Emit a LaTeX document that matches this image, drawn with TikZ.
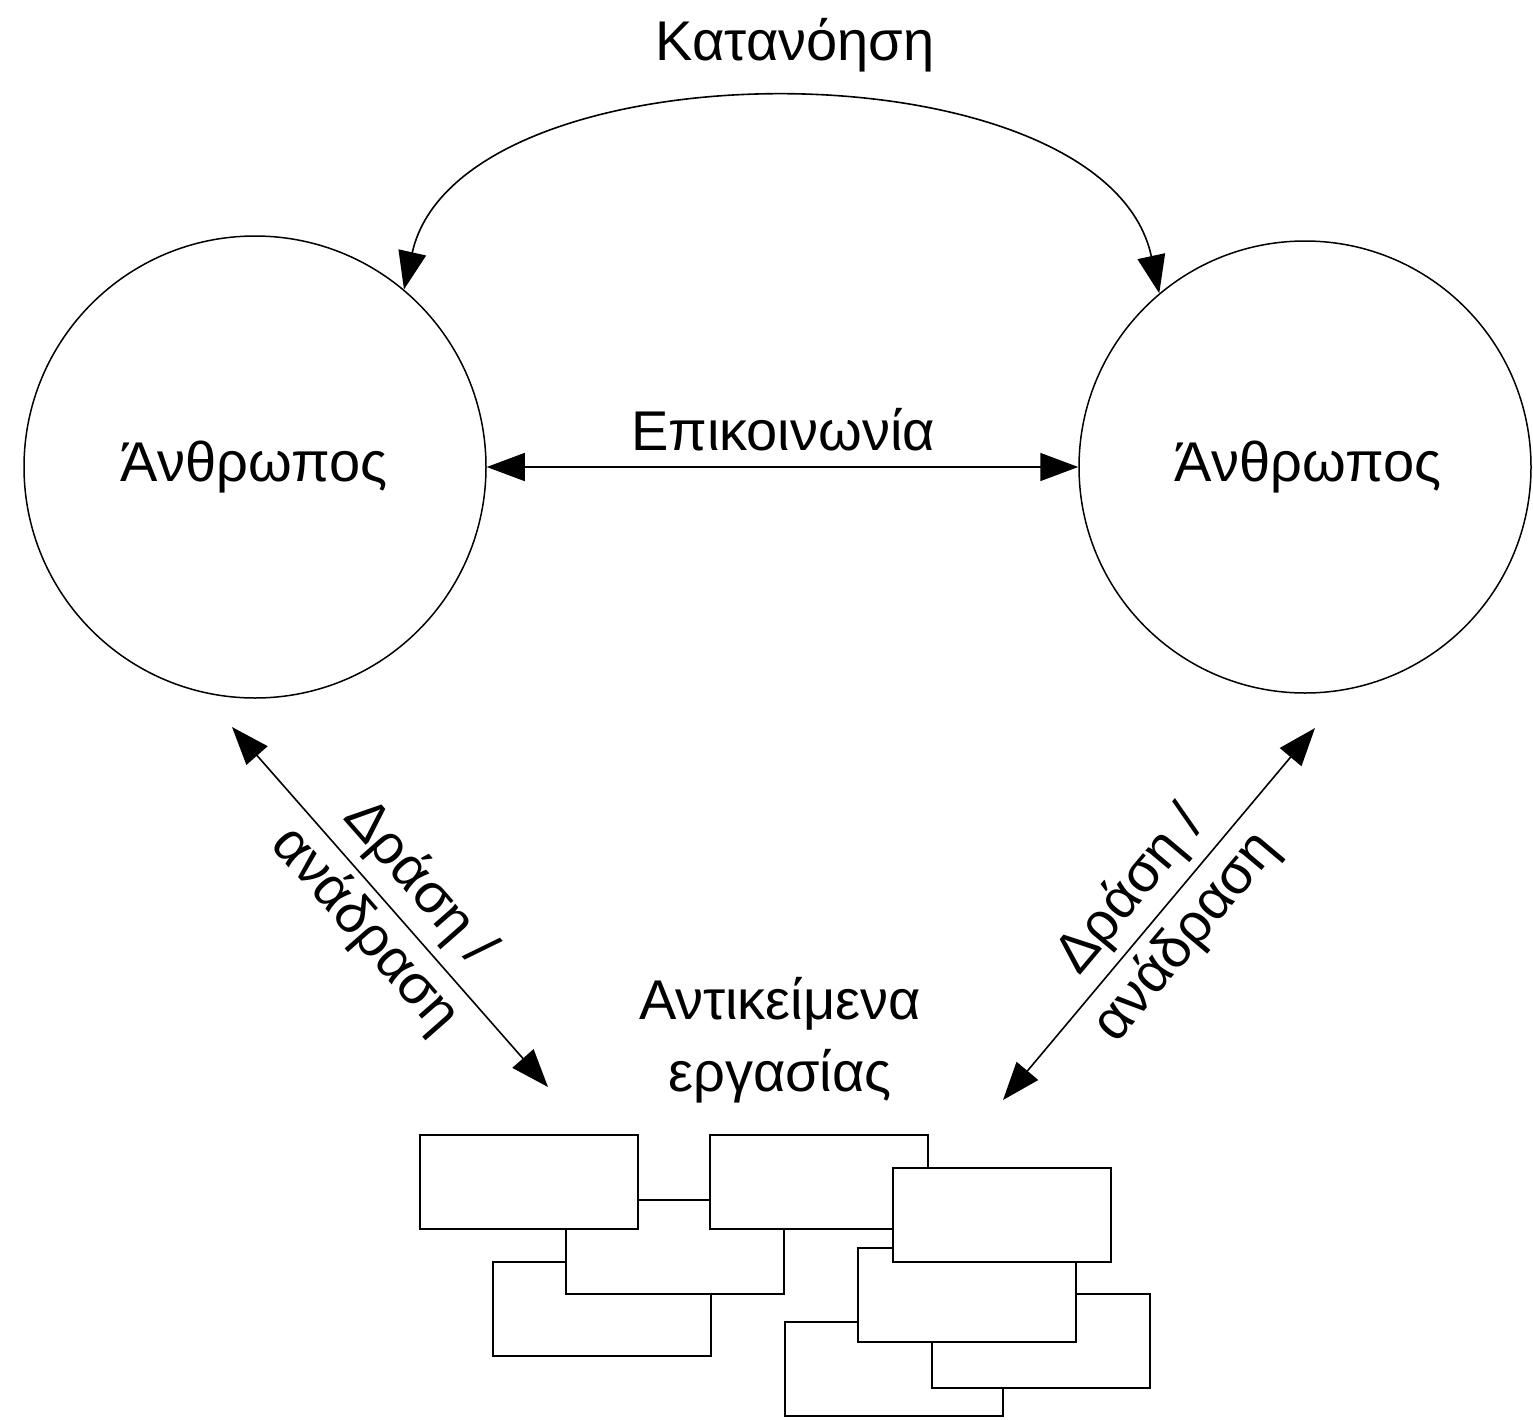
\documentclass[tikz,border=0pt]{standalone}
\usepackage{fontspec}
\setmainfont{Liberation Sans}
\usetikzlibrary{arrows.meta}

\tikzset{
  person/.style={draw,circle,line width=1.5pt,inner sep=0pt},
  link/.style={line width=1.6pt,{Triangle[length=38pt,width=28pt]}-{Triangle[length=38pt,width=28pt]}},
  taskbox/.style={draw,fill=white,line width=2.2pt},
  lbl/.style={inner sep=0.75pt,align=center,font=\fontsize{56}{72}\selectfont}
}

\begin{document}
\begin{tikzpicture}[x=1pt,y=1pt,yscale=-1,xscale=1]
\useasboundingbox (0,0) rectangle (1533,1419);
% the two persons
\node [person,minimum size=462pt] (pl) at (255,467) {};
\node [person,minimum size=452pt] (pr) at (1305,467) {};
\node [lbl] (tl) at (254,467) {Άνθρωπος};
\node [lbl] (tr) at (1308,467) {Άνθρωπος};
% understanding and communication
\node [lbl] (und) at (795,45) {Κατανόηση};
\draw [link] (pl.50) .. controls (460,40) and (1105,40) .. (pr.130);
\node [lbl] (com) at (783,430) {Επικοινωνία};
\draw [link] (pl.east) -- (pr.west);
% work objects
\node [lbl] (obj) at (780,1040) {Αντικείμενα\\εργασίας};
\coordinate (al1) at (232,727);
\coordinate (al2) at (548,1087);
\coordinate (ar1) at (1315,728);
\coordinate (ar2) at (1003,1100);
\draw [link] (al1) -- (al2);
\draw [link] (ar2) -- (ar1);
\node [lbl,rotate=-48.7] (dl) at (392,907) {Δράση /\\ανάδραση};
\node [lbl,rotate=50] (dr) at (1159,914) {Δράση /\\ανάδραση};
% boxes, back to front
\foreach \bx/\by in {785/1322,932/1294,858/1248,493/1262,566/1200,710/1135,893/1168,420/1135}
  \draw [taskbox] (\bx,\by) rectangle ++(218,94);
\end{tikzpicture}
\end{document}
